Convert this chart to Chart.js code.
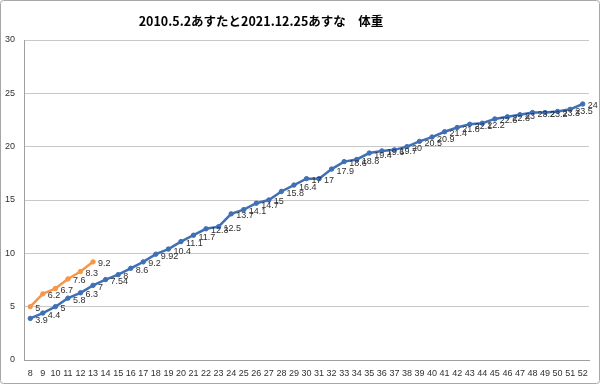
<!DOCTYPE html>
<html>
<head>
<meta charset="utf-8">
<script src="https://cdn.jsdelivr.net/npm/chart.js@4/dist/chart.umd.min.js"></script>
<style>
html,body{margin:0;padding:0;background:#fff;}
#wrap{width:600px;height:384px;position:relative;}
</style>
</head>
<body>
<div id="wrap"><canvas id="c" width="600" height="384"></canvas></div>
<script>
const titleText = "2010.5.2あすたと2021.12.25あすな　体重";
const categories = ["8","9","10","11","12","13","14","15","16","17","18","19","20","21","22","23","24","25","26","27","28","29","30","31","32","33","34","35","36","37","38","39","40","41","42","43","44","45","46","47","48","49","50","51","52"];
const asutaWeights = [3.9,4.4,5,5.8,6.3,7,7.54,8,8.6,9.2,9.92,10.4,11.1,11.7,12.3,12.5,13.7,14.1,14.7,15,15.8,16.4,17,17,17.9,18.6,18.8,19.4,19.6,19.7,20,20.5,20.9,21.4,21.8,22.1,22.2,22.6,22.8,23,23.2,23.2,23.3,23.5,24];
const asunaWeights = [5,6.2,6.7,7.6,8.3,9.2];
const yTicks = [0,5,10,15,20,25,30];

const frameAndTitle = {
  id: 'frameAndTitle',
  beforeDraw(chart) {
    const ctx = chart.ctx;
    ctx.save();
    ctx.fillStyle = '#ffffff';
    ctx.fillRect(0, 0, chart.width, chart.height);
    ctx.restore();
  },
  afterDraw(chart) {
    const ctx = chart.ctx;
    ctx.save();
    ctx.strokeStyle = '#a6a6a6';
    ctx.lineWidth = 1;
    ctx.beginPath();
    ctx.roundRect(0.5, 0.5, chart.width - 1, chart.height - 1, 3);
    ctx.stroke();
    ctx.fillStyle = '#000000';
    ctx.font = 'bold 12.5px "Noto Sans CJK JP"';
    ctx.textAlign = 'center';
    ctx.textBaseline = 'middle';
    ctx.fillText(titleText, 261, 21);
    ctx.restore();
  }
};

const dataLabels = {
  id: 'dataLabels',
  afterDatasetsDraw(chart) {
    const ctx = chart.ctx;
    ctx.save();
    ctx.font = '9px "Liberation Sans"';
    ctx.fillStyle = '#303030';
    ctx.textAlign = 'left';
    ctx.textBaseline = 'middle';
    chart.data.datasets.forEach((ds, i) => {
      const meta = chart.getDatasetMeta(i);
      meta.data.forEach((el, j) => {
        const v = ds.data[j];
        if (v === null || v === undefined) return;
        ctx.fillText(String(v), el.x + 5, el.y + 2);
      });
    });
    ctx.restore();
  }
};

new Chart(document.getElementById('c'), {
  type: 'line',
  data: {
    labels: categories,
    datasets: [
      {
        label: 'あすな',
        data: asunaWeights,
        borderColor: '#f79646',
        backgroundColor: '#f79646',
        pointBackgroundColor: '#f79646',
        pointBorderColor: '#f79646',
        borderWidth: 2.5,
        pointRadius: 2.2,
        pointBorderWidth: 1,
        pointStyle: 'circle',
        tension: 0
      },
      {
        label: 'あすた',
        data: asutaWeights,
        borderColor: '#3f6fb5',
        backgroundColor: '#3f6fb5',
        pointBackgroundColor: '#3f6fb5',
        pointBorderColor: '#3f6fb5',
        borderWidth: 2.5,
        pointRadius: 2.2,
        pointBorderWidth: 1,
        pointStyle: 'circle',
        tension: 0
      }
    ]
  },
  options: {
    responsive: false,
    animation: false,
    devicePixelRatio: 1,
    layout: { padding: { top: 40, right: 11, left: 0, bottom: 0 } },
    plugins: {
      legend: { display: false },
      title: { display: false },
      tooltip: { enabled: false }
    },
    scales: {
      x: {
        offset: true,
        grid: { display: false, drawTicks: false },
        border: { display: true, color: '#a0a0a0', width: 1 },
        ticks: {
          autoSkip: false,
          maxRotation: 0,
          padding: 8,
          color: '#303030',
          font: { family: '"Liberation Sans"', size: 9 }
        },
        afterFit(s) { s.height = 24; }
      },
      y: {
        min: 0,
        max: 30,
        afterBuildTicks(s) { s.ticks = yTicks.map(v => ({ value: v })); },
        grid: { color: '#c8c8c8', lineWidth: 1, drawTicks: false },
        border: { display: true, color: '#a0a0a0', width: 1 },
        ticks: {
          padding: 9,
          color: '#303030',
          font: { family: '"Liberation Sans"', size: 9 }
        },
        afterFit(s) { s.width = 24; }
      }
    }
  },
  plugins: [frameAndTitle, dataLabels]
});
</script>
</body>
</html>
